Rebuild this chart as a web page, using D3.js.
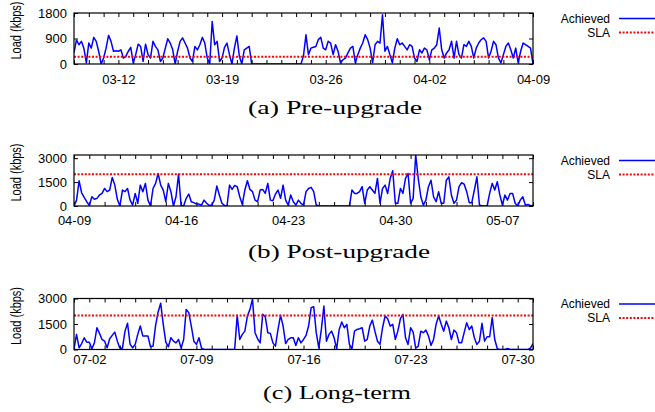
<!DOCTYPE html>
<html>
<head>
<meta charset="utf-8">
<script src="https://cdn.jsdelivr.net/npm/d3@7"></script>
<style>
body { margin: 0; background: #fff; }
text { font-family: "Liberation Sans", Arial, sans-serif; fill: #000; }
</style>
</head>
<body>
<div id="chart"></div>
<script>
// all series are sampled every 4 hours from the start day
var year = "2012";
var stepHours = 4;

// (a) Pre-upgrade
var startA = "03-09", endA = "04-09";
var slaA = 256;
var yMaxA = 1800;
var yTicksA = [0, 900, 1800];
var xTicksA = ["03-12", "03-19", "03-26", "04-02", "04-09"];
var loadA = [
  400, 850, 680, 800, 560, 40, 740, 560, 940, 800, 450, 0,
  210, 560, 1010, 800, 450, 470, 450, 500, 210, 270, 450, 590,
  40, 330, 700, 620, 90, 700, 330, 210, 800, 620, 500, 90,
  210, 560, 890, 740, 500, 0, 450, 800, 920, 740, 560, 210,
  90, 620, 500, 680, 940, 740, 210, 0, 1500, 680, 800, 90,
  210, 590, 740, 330, 0, 560, 990, 270, 0, 500, 560, 620,
  0, 0, 0, 0, 0, 0, 0, 0, 0, 0, 0, 0,
  0, 0, 0, 0, 0, 0, 0, 0, 0, 300, 1030, 330,
  560, 590, 620, 860, 940, 560, 500, 800, 740, 330, 680, 450,
  40, 150, 210, 390, 560, 620, 40, 330, 560, 740, 1030, 860,
  560, 40, 680, 800, 740, 1740, 450, 620, 330, 40, 560, 890,
  680, 740, 620, 500, 680, 620, 210, 90, 500, 390, 560, 500,
  150, 500, 560, 680, 1270, 500, 210, 390, 500, 800, 210, 800,
  330, 210, 680, 620, 800, 620, 210, 560, 740, 860, 920, 800,
  210, 450, 800, 680, 210, 40, 330, 620, 740, 500, 210, 560,
  40, 450, 740, 680, 620, 560, 0
];

// (b) Post-upgrade
var startB = "04-09", endB = "05-09";
var slaB = 2000;
var yMaxB = 3200;
var yTicksB = [0, 1500, 3000];
var xTicksB = ["04-09", "04-16", "04-23", "04-30", "05-07"];
var loadB = [
  0, 370, 1580, 830, 540, 270, 40, 580, 420, 480, 690, 790,
  1100, 900, 1000, 1790, 1310, 420, 0, 1000, 900, 1100, 370, 60,
  790, 170, 1310, 900, 1420, 370, 0, 1100, 1420, 2040, 1310, 1000,
  270, 1420, 900, 0, 580, 2000, 40, 0, 480, 750, 270, 210,
  120, 120, 60, 370, 170, 40, 60, 370, 1250, 690, 170, 40,
  0, 1310, 1040, 1290, 1210, 580, 100, 1000, 1580, 1040, 900, 370,
  270, 1000, 1040, 790, 1420, 370, 330, 750, 1000, 480, 1310, 370,
  60, 690, 270, 60, 370, 170, 60, 900, 1100, 1170, 900, 60,
  0, 0, 0, 0, 0, 0, 0, 0, 0, 0, 0, 0,
  0, 1000, 790, 790, 900, 1210, 170, 1000, 1210, 1000, 790, 1730,
  170, 1100, 1310, 790, 1730, 2210, 170, 170, 1100, 790, 1730, 2040,
  170, 480, 3300, 1730, 580, 60, 370, 1210, 1620, 580, 270, 900,
  170, 170, 1620, 1830, 690, 170, 370, 1210, 1460, 1370, 900, 210,
  210, 1000, 1830, 60, 0, 0, 0, 790, 1420, 1000, 1520, 690,
  60, 690, 370, 790, 790, 170, 0, 370, 580, 60, 100, 40,
  0
];

// (c) Long-term
var startC = "07-01", endC = "07-31";
var slaC = 2000;
var yMaxC = 3000;
var yTicksC = [0, 1500, 3000];
var xTicksC = ["07-02", "07-09", "07-16", "07-23", "07-30"];
var loadC = [
  40, 890, 100, 350, 690, 430, 430, 40, 390, 1280, 950, 590,
  490, 100, 630, 830, 1020, 490, 80, 80, 1080, 1540, 300, 100,
  300, 890, 1380, 790, 790, 790, 160, 200, 1420, 2210, 2720, 1480,
  430, 160, 690, 490, 390, 590, 80, 590, 2360, 2170, 1380, 490,
  300, 690, 80, 0, 0, 0, 0, 0, 0, 0, 0, 0,
  0, 0, 0, 0, 2010, 590, 890, 1080, 1970, 2360, 2960, 990,
  630, 390, 2070, 1930, 990, 950, 390, 200, 1180, 2010, 1380, 350,
  590, 690, 690, 240, 690, 390, 590, 830, 1380, 2460, 2520, 990,
  100, 1180, 2560, 490, 890, 1080, 690, 40, 1180, 1620, 1280, 1480,
  300, 40, 1080, 1180, 1220, 1280, 490, 590, 1380, 1730, 1080, 490,
  300, 1280, 1970, 1810, 1380, 1480, 590, 1080, 1810, 2070, 690, 300,
  1280, 1020, 80, 200, 1080, 990, 1140, 790, 240, 590, 1480, 1970,
  1480, 1080, 1670, 1280, 590, 1140, 990, 390, 390, 990, 1580, 1180,
  1380, 690, 300, 490, 1540, 490, 750, 750, 1870, 590, 40, 0,
  0, 0, 60, 0, 0, 0, 0, 0, 0, 0, 0, 80,
  350
];

var svg = d3.select("#chart")
            .append("svg")
            .attr("width", 655)
            .attr("height", 412);

var parseDay = d3.utcParse("%Y-%m-%d");
var left = 74, right = 533, plotH = 51;
var width = right - left;

function drawPanel(id, top, start, end, load, sla, yMax, yTicks, xTicks, labelPad, caption, capX, capY, capW) {
  var g = svg.append("g")
      .attr("transform", "translate(" + left + "," + top + ")");

  var t0 = parseDay(year + "-" + start), t1 = parseDay(year + "-" + end);
  var x = d3.scaleUtc().domain([t0, t1]).range([0, width]);
  var y = d3.scaleLinear().domain([0, yMax]).range([plotH, 0]);

  var days = d3.utcDay.range(t0, d3.utcDay.offset(t1, 1));
  var majors = xTicks.map(function(s) { return parseDay(year + "-" + s); });

  // daily ticks, inward, bottom and top
  g.append("g")
      .attr("transform", "translate(0," + plotH + ")")
      .call(d3.axisBottom(x).tickValues(days).tickSize(-4).tickFormat(""));
  g.append("g")
      .call(d3.axisTop(x).tickValues(days).tickSize(-4).tickFormat(""));
  // weekly labels
  g.append("g")
      .attr("class", "lab")
      .attr("transform", "translate(0," + plotH + ")")
      .call(d3.axisBottom(x).tickValues(majors).tickSize(0).tickPadding(labelPad)
            .tickFormat(d3.utcFormat("%m-%d")));

  g.append("g")
      .attr("class", "lab")
      .call(d3.axisLeft(y).tickValues(yTicks).tickSize(-4).tickPadding(7)
            .tickFormat(d3.format("d")));
  g.append("g")
      .attr("transform", "translate(" + width + ",0)")
      .call(d3.axisRight(y).tickValues(yTicks).tickSize(-4).tickFormat(""));

  g.selectAll(".domain").remove();
  g.selectAll(".tick line").attr("stroke", "#000").attr("stroke-width", 1);
  g.selectAll(".lab text").attr("font-size", "13px")
      .attr("font-family", "'Liberation Sans', Arial, sans-serif");

  g.append("clipPath").attr("id", "clip" + id)
    .append("rect").attr("width", width).attr("height", plotH);

  var line = d3.line()
      .x(function(d, i) { return x(d3.utcHour.offset(t0, i * stepHours)); })
      .y(function(d) { return y(Math.min(d, yMax)); });

  g.append("path")
      .datum(load)
      .attr("clip-path", "url(#clip" + id + ")")
      .attr("fill", "none")
      .attr("stroke", "#0000ff")
      .attr("stroke-width", 1.5)
      .attr("stroke-linejoin", "round")
      .attr("d", line);

  g.append("line")
      .attr("x1", 0).attr("x2", width)
      .attr("y1", y(sla)).attr("y2", y(sla))
      .attr("stroke", "#ff0000")
      .attr("stroke-width", 2)
      .attr("stroke-dasharray", "2,1.6");

  g.append("rect")
      .attr("width", width).attr("height", plotH)
      .attr("fill", "none")
      .attr("stroke", "#000")
      .attr("stroke-width", 1.2);

  // y label, a little wider as in the scanned figure
  svg.append("text")
      .attr("transform", "translate(21," + (top + plotH / 2 - 8) + ") rotate(-90) scale(1,1.25)")
      .attr("text-anchor", "middle")
      .style("font-size", "11px")
      .text("Load (kbps)");

  // legend
  var leg = svg.append("g").attr("transform", "translate(0," + (top + 5.5) + ")");
  leg.append("text").attr("x", 610).attr("y", 0).attr("dy", "0.35em")
      .attr("text-anchor", "end").style("font-size", "12px").text("Achieved");
  leg.append("line").attr("x1", 619).attr("x2", 660).attr("y1", 0).attr("y2", 0)
      .attr("stroke", "#0000ff").attr("stroke-width", 1.5);
  leg.append("text").attr("x", 610).attr("y", 14).attr("dy", "0.35em")
      .attr("text-anchor", "end").style("font-size", "12px").text("SLA");
  leg.append("line").attr("x1", 619).attr("x2", 660).attr("y1", 14).attr("y2", 14)
      .attr("stroke", "#ff0000").attr("stroke-width", 2).attr("stroke-dasharray", "2,1.6");

  // caption
  svg.append("text")
      .attr("x", capX).attr("y", capY)
      .attr("textLength", capW)
      .attr("lengthAdjust", "spacingAndGlyphs")
      .style("font-family", "'Liberation Serif', 'DejaVu Serif', serif")
      .style("font-size", "19px")
      .text(caption);
}

drawPanel("a", 13, startA, endA, loadA, slaA, yMaxA, yTicksA, xTicksA, 11, "(a) Pre-upgrade", 248, 114, 174);
drawPanel("b", 155, startB, endB, loadB, slaB, yMaxB, yTicksB, xTicksB, 10, "(b) Post-upgrade", 248, 258, 182);
drawPanel("c", 298.5, startC, endC, loadC, slaC, yMaxC, yTicksC, xTicksC, 5, "(c) Long-term", 263, 399, 148);
</script>
</body>
</html>
